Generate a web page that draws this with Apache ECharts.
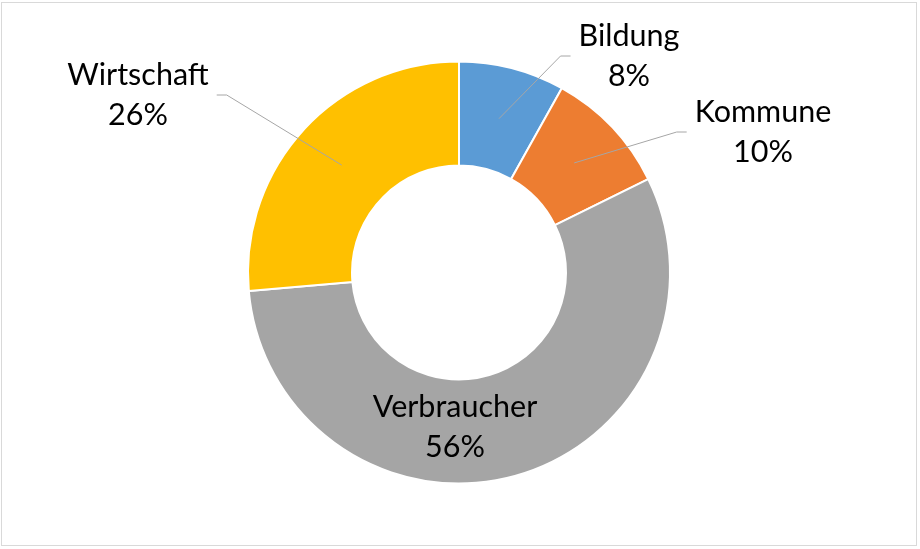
<!DOCTYPE html>
<html>

<head>
    <meta charset="utf-8">
    <title>Donut</title>
    <style>
        html,
        body {
            margin: 0;
            padding: 0;
            background: #fff;
        }

        .chartBox {
            position: absolute;
            left: 0;
            top: 0;
            width: 920px;
            height: 549px;
        }

        .frame {
            position: absolute;
            left: 1px;
            top: 2px;
            width: 914px;
            height: 542px;
            border: 1px solid #d9d9d9;
            pointer-events: none;
        }
    </style>
</head>

<body>
    <div id="pieChart" class="chartBox"></div>
    <div class="frame"></div>
</body>
<script type="text/javascript" src="https://cdn.jsdelivr.net/npm/echarts@6/dist/echarts.min.js"></script>
<script type="text/javascript">
    var categories = ['Bildung', 'Kommune', 'Verbraucher', 'Wirtschaft'];
    var shares = [8.1, 9.6, 55.9, 26.4];
    var colors = ['#5b9bd5', '#ed7d31', '#a5a5a5', '#ffc000'];

    // Lage der Beschriftungen (Mittelpunkt des Textblocks)
    var labelPos = [
        [629, 56],
        [763, 132],
        [455, 427],
        [138, 95]
    ];

    var center = [459, 272.5];

    function buildData() {
        var arr = [];
        for (var i = 0; i < categories.length; i++) {
            arr.push({
                value: shares[i],
                name: categories[i]
            });
        }
        return arr;
    }

    // Hilfsserie nur für Beschriftung + Führungslinie (Anker auf halbem Ring)
    function buildLabelData() {
        var arr = buildData();
        arr[2].labelLine = { show: false };
        return arr;
    }

    function showPieChart() {
        var myChart = echarts.init(document.getElementById('pieChart'));
        var option = {
            animation: false,
            color: colors,
            series: [{
                type: 'pie',
                z: 2,
                center: center,
                radius: [107, 211],
                startAngle: 90,
                clockwise: true,
                silent: true,
                label: { show: false },
                labelLine: { show: false },
                itemStyle: {
                    borderColor: '#fff',
                    borderWidth: 2
                },
                emphasis: { disabled: true },
                data: buildData()
            }, {
                type: 'pie',
                z: 10,
                center: center,
                radius: [0, 159],
                startAngle: 90,
                clockwise: true,
                silent: true,
                avoidLabelOverlap: false,
                itemStyle: { color: 'rgba(0,0,0,0)' },
                emphasis: { disabled: true },
                label: {
                    show: true,
                    position: 'outside',
                    color: '#000',
                    fontFamily: 'Lato',
                    fontSize: 30.5,
                    lineHeight: 40,
                    padding: [0, 8],
                    formatter: function(p) {
                        return p.name + '\n' + Math.round(p.percent) + '%';
                    }
                },
                labelLine: {
                    show: true,
                    length: 20,
                    length2: 10,
                    lineStyle: {
                        color: '#a6a6a6',
                        width: 1
                    }
                },
                labelLayout: function(params) {
                    var pos = labelPos[params.dataIndex];
                    return {
                        x: pos[0],
                        y: pos[1],
                        align: 'center',
                        verticalAlign: 'middle'
                    };
                },
                data: buildLabelData()
            }]
        };
        myChart.setOption(option);
    }

    showPieChart();
</script>

</html>
